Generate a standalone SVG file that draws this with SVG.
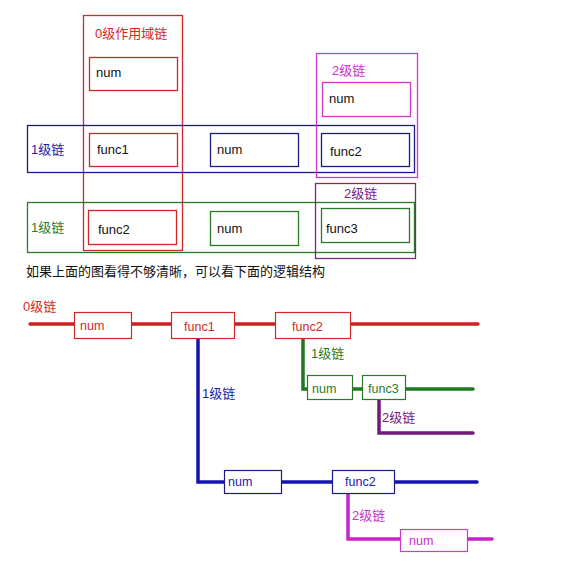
<svg xmlns="http://www.w3.org/2000/svg" width="569" height="587" viewBox="0 0 569 587">
<style>
text{font-family:"Liberation Sans","Noto Sans CJK SC",Arial,sans-serif;font-size:13px}
.box{fill:none;stroke-width:1.3}
.red{stroke:#d02828}
.navy{stroke:#1c1c80}
.green{stroke:#2a7a2a}
.mag{stroke:#cc3acc}
.pur{stroke:#7a2a80}
.blk{fill:#111}
.tr{fill:#d42828}
.tb{fill:#2020a8}
.tg{fill:#2a7a2a}
.tm{fill:#cc30cc}
.tp{fill:#7a2080}
.ln{fill:none;stroke-width:3.5;stroke-linecap:round}
.b text{font-size:12.5px}
</style>
<rect width="569" height="587" fill="#fff"/>
<!-- top section -->
<g id="scope0">
<rect class="box red" x="83.5" y="15.5" width="99" height="235"/>
<text class="tr" x="95" y="38">0级作用域链</text>
</g>
<g id="chain1-blue">
<rect class="box navy" x="27.5" y="125.5" width="387" height="47"/>
<text class="tb" x="31" y="154">1级链</text>
</g>
<g id="chain1-green">
<rect class="box green" x="27.5" y="202.5" width="387" height="50"/>
<text class="tg" x="31" y="232">1级链</text>
</g>
<g id="chain2-top">
<rect class="box mag" x="316.5" y="53.5" width="101" height="124"/>
<text class="tm" x="332" y="75">2级链</text>
</g>
<g id="chain2-bottom">
<rect class="box pur" x="315.5" y="183.5" width="100" height="75"/>
<text class="tp" x="344" y="198">2级链</text>
</g>
<g id="t-num0">
<rect class="box red" x="89.5" y="57.5" width="88" height="33"/>
<text class="blk" x="96" y="77">num</text>
</g>
<g id="t-func1">
<rect class="box red" x="89.5" y="133.5" width="88" height="33"/>
<text class="blk" x="97" y="154">func1</text>
</g>
<g id="t-num1">
<rect class="box navy" x="210.5" y="133.5" width="88" height="33"/>
<text class="blk" x="217" y="154">num</text>
</g>
<g id="t-func2a">
<rect class="box navy" x="321.5" y="133.5" width="88" height="33"/>
<text class="blk" x="330" y="156">func2</text>
</g>
<g id="t-num2">
<rect class="box mag" x="322.5" y="82.5" width="88" height="34"/>
<text class="blk" x="329" y="103">num</text>
</g>
<g id="t-func2b">
<rect class="box red" x="88.5" y="210.5" width="88" height="34"/>
<text class="blk" x="98" y="234">func2</text>
</g>
<g id="t-num3">
<rect class="box green" x="210.5" y="211.5" width="88" height="34"/>
<text class="blk" x="217" y="233">num</text>
</g>
<g id="t-func3">
<rect class="box green" x="321.5" y="208.5" width="88" height="34"/>
<text class="blk" x="326" y="233">func3</text>
</g>
<text class="blk" x="26" y="276">如果上面的图看得不够清晰，可以看下面的逻辑结构</text>
<!-- bottom section connectors -->
<g id="connectors">
<path class="ln" stroke="#d02020" d="M30 324H478"/>
<path class="ln" stroke="#1414b4" d="M198 339V482H477"/>
<path class="ln" stroke="#1e7a1e" d="M303 339V389H473"/>
<path class="ln" stroke="#701a7a" d="M379 399V433H473"/>
<path class="ln" stroke="#cc22cc" d="M348 493V539H492"/>
<text class="tr" x="23" y="311">0级链</text>
<text class="tb" x="202" y="398">1级链</text>
<text class="tg" x="311" y="358">1级链</text>
<text class="tp" x="382" y="422">2级链</text>
<text class="tm" x="352" y="520">2级链</text>
</g>
<g class="b">
<g id="b-num0">
<rect class="red" x="74.5" y="312.5" width="57" height="26" fill="#fff" stroke-width="1.2"/>
<text class="tr" x="80" y="330">num</text>
</g>
<g id="b-func1">
<rect class="red" x="171.5" y="312.5" width="63" height="26" fill="#fff" stroke-width="1.2"/>
<text class="tr" x="184" y="331">func1</text>
</g>
<g id="b-func2">
<rect class="red" x="275.5" y="312.5" width="75" height="26" fill="#fff" stroke-width="1.2"/>
<text class="tr" x="292" y="331">func2</text>
</g>
<g id="b-num1">
<rect class="green" x="307.5" y="375.5" width="45" height="24" fill="#fff" stroke-width="1.2"/>
<text class="tg" x="312" y="393">num</text>
</g>
<g id="b-func3">
<rect class="green" x="362.5" y="375.5" width="43" height="24" fill="#fff" stroke-width="1.2"/>
<text class="tg" x="368" y="393">func3</text>
</g>
<g id="b-num2">
<rect class="navy" x="224.5" y="470.5" width="57" height="23" fill="#fff" stroke-width="1.2"/>
<text class="tb" x="228" y="486">num</text>
</g>
<g id="b-func2b">
<rect class="navy" x="332.5" y="470.5" width="62" height="23" fill="#fff" stroke-width="1.2"/>
<text class="tb" x="345" y="486">func2</text>
</g>
<g id="b-num3">
<rect class="mag" x="400.5" y="529.5" width="67" height="22" fill="#fff" stroke-width="1.2"/>
<text class="tm" x="409" y="545">num</text>
</g>
</g>
</svg>
